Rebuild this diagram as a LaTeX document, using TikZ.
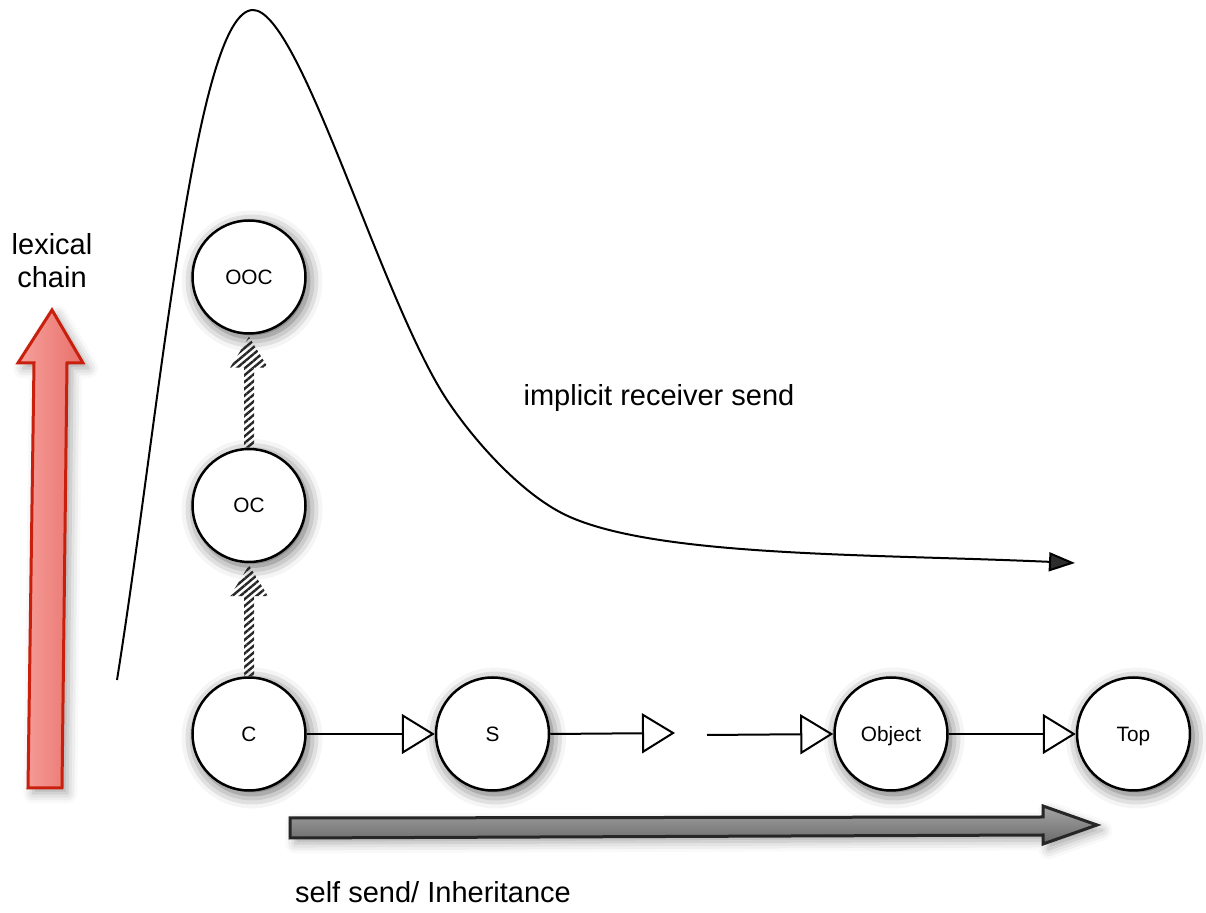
\documentclass[tikz,border=0pt]{standalone}
\usepackage{fontspec}
\setmainfont{Liberation Sans}
\usetikzlibrary{positioning, arrows.meta, patterns.meta, shadows.blur, calc}

\definecolor{lexred}{RGB}{200,32,12}
\definecolor{lexpinkL}{RGB}{247,160,156}
\definecolor{lexpinkR}{RGB}{232,112,106}
\definecolor{inhgrayT}{RGB}{165,165,165}
\definecolor{inhgrayB}{RGB}{105,105,105}

\tikzset{
  cls/.style={circle, draw=black, line width=1.25pt, fill=white, minimum size=56.5pt, inner sep=0pt,
    font=\fontsize{10.4}{12}\selectfont, text height=7.5pt, text depth=0pt,
    blur shadow={shadow blur radius=7pt, shadow xshift=1.5pt, shadow yshift=-2pt, shadow opacity=65}},
  lbl/.style={font=\fontsize{14.5}{16.5}\selectfont, align=center},
  super/.style={line width=1pt, -{Triangle[open, length=16.5pt, width=20pt, line width=1pt]}},
  hatch/.style={pattern={Lines[angle=40, distance=2.6pt, line width=1.2pt]}, pattern color=black!85},
}

\begin{document}
\begin{tikzpicture}[x=0.5pt, y=-0.5pt]
\useasboundingbox (0,0) rectangle (1206,913);

% lexical chain / inheritance chain
\node[cls] (C) at (249,734) {C};
\node[cls, above=56.5pt of C] (OC) {OC};
\node[cls, above=56.5pt of OC] (OOC) {OOC};
\node[cls, right=64pt of C] (S) {S};
\node[cls, right=141.5pt of S] (Object) {Object};
\node[cls, right=63.5pt of Object] (Top) {Top};

\coordinate (gapA) at (675,733);
\coordinate (gapB) at (707,735);
\draw[super] (C) -- (S);
\draw[super] (S.east) -- (gapA);
\draw[super] (gapB) -- (Object.west);
\draw[super] (Object) -- (Top);

% outer chain arrows
\path[hatch] ($(C.north)+(-5,0)$) -- ($(OC.south)+(-5,33)$) -- ($(OC.south)+(-19,33)$) -- ($(OC.south)+(0,2)$)
  -- ($(OC.south)+(19,33)$) -- ($(OC.south)+(5,33)$) -- ($(C.north)+(5,0)$) -- cycle;
\path[hatch] ($(OC.north)+(-5,0)$) -- ($(OOC.south)+(-5,33)$) -- ($(OOC.south)+(-19,33)$) -- ($(OOC.south)+(0,2)$)
  -- ($(OOC.south)+(19,33)$) -- ($(OOC.south)+(5,33)$) -- ($(OC.north)+(5,0)$) -- cycle;

% big arrows
\path[draw=lexred, line width=1.5pt, left color=lexpinkL, right color=lexpinkR, line join=miter,
  blur shadow={shadow blur radius=5pt, shadow opacity=35}]
  (28,788) -- (34,363) -- (18,363) -- (52,310) -- (83,363) -- (67,363) -- (62,788) -- cycle;
\path[draw=black!85, line width=1.5pt, top color=inhgrayT, bottom color=inhgrayB, line join=miter,
  blur shadow={shadow blur radius=5pt, shadow opacity=35}]
  (290,818) -- (1043,817) -- (1043,806) -- (1097,825) -- (1043,844) -- (1043,835) -- (290,838) -- cycle;

% implicit receiver send
\coordinate (curveStart) at (117,680);
\coordinate (curveEnd) at (1075,563);
\draw[line width=1pt, -{Triangle[length=13pt, width=9.5pt]}]
  (curveStart) .. controls (160,410) and (195,10) .. (253,10)
  .. controls (300,10) and (381,300) .. (447,400)
  .. controls (474.5,441.5) and (524,497) .. (570,517)
  .. controls (661.6,557.2) and (875,554) .. (curveEnd);

\node[lbl] (lexlbl) at (52,261) {lexical\\chain};
\node[lbl] (irslbl) at (659,398) {implicit receiver send};
\node[lbl] (inhlbl) at (433,892) {self send/ Inheritance};
\end{tikzpicture}
\end{document}
